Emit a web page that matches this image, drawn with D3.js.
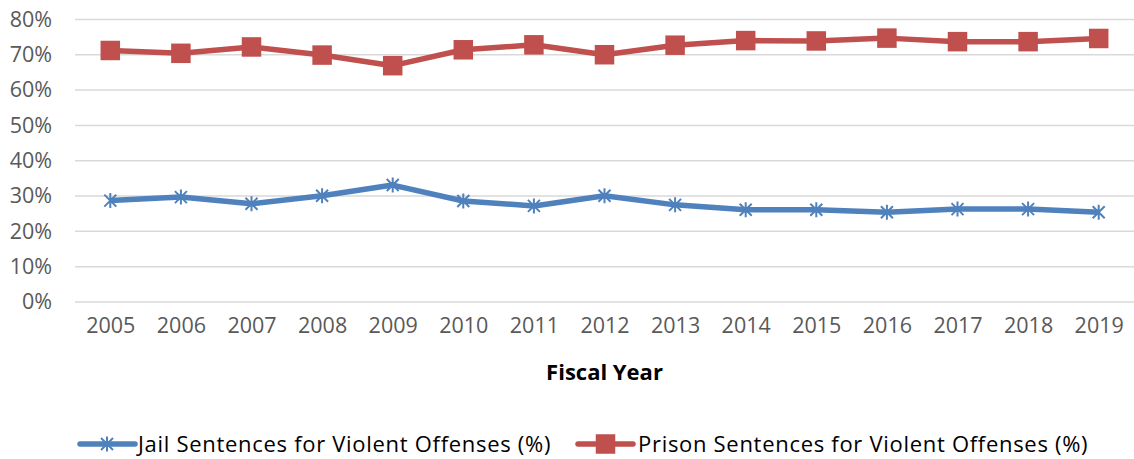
<!DOCTYPE html>
<html>
<head>
<meta charset="utf-8">
<script src="https://cdn.jsdelivr.net/npm/d3@7"></script>
<style>
  body { margin: 0; background: #fff; }
  text { font-family: "Open Sans", sans-serif; }
</style>
</head>
<body>
<div id="chart"></div>
<script>
// data
const years = ["2005", "2006", "2007", "2008", "2009", "2010", "2011", "2012",
    "2013", "2014", "2015", "2016", "2017", "2018", "2019"];
const jailPct = [28.7, 29.7, 27.8, 30.1, 33.1, 28.6, 27.2, 30.1, 27.5, 26.1, 26.1, 25.4, 26.3, 26.3, 25.4];
const prisonPct = [71.2, 70.4, 72.2, 69.9, 66.9, 71.4, 72.8, 70.0, 72.7, 74.0, 73.9, 74.7, 73.7, 73.7, 74.6];
const yTicks = [0, 10, 20, 30, 40, 50, 60, 70, 80];
const seriesNames = ["Jail Sentences for Violent Offenses (%)", "Prison Sentences for Violent Offenses (%)"];

const W = 1134, H = 459;
const margin = { top: 19.4, right: 0, bottom: 157, left: 75 };

const svg = d3.select("#chart")
    .append("svg")
    .attr("width", W)
    .attr("height", H);

const x = d3.scalePoint()
    .domain(years)
    .range([margin.left, W - margin.right])
    .padding(0.5);

const y = d3.scaleLinear()
    .domain([0, 80])
    .range([H - margin.bottom, margin.top]);

// gridlines
svg.append("g")
    .selectAll("line")
    .data(yTicks)
    .enter().append("line")
    .attr("x1", margin.left)
    .attr("x2", W - margin.right)
    .attr("y1", d => y(d))
    .attr("y2", d => y(d))
    .attr("stroke", "#d9d9d9")
    .attr("stroke-width", 1.5);

// y axis labels
const yAxis = svg.append("g")
    .attr("transform", `translate(${margin.left},0)`)
    .call(d3.axisLeft(y).tickValues(yTicks).tickFormat(d => d + "%").tickSize(0).tickPadding(23));
yAxis.select(".domain").remove();
yAxis.selectAll("text")
    .attr("font-family", "Open Sans, sans-serif")
    .attr("font-size", "21.5px")
    .attr("fill", "#595959");

// x axis labels
const xAxis = svg.append("g")
    .attr("transform", `translate(0,${y(0)})`)
    .call(d3.axisBottom(x).tickSize(0).tickPadding(16));
xAxis.select(".domain").remove();
xAxis.selectAll("text")
    .attr("font-family", "Open Sans, sans-serif")
    .attr("font-size", "21.5px")
    .attr("fill", "#595959");

svg.append("text")
    .attr("x", 604.5)
    .attr("y", 380)
    .attr("text-anchor", "middle")
    .attr("font-size", "22px")
    .attr("font-weight", "bold")
    .attr("fill", "#000")
    .text("Fiscal Year");

const line = d3.line()
    .x((d, i) => x(years[i]))
    .y(d => y(d));

const blue = "#4f81bd", red = "#c0504d";
const starPath = r => {
    const k = r * 0.8;
    return `M0,${-r}L0,${r}M${-k},${-k}L${k},${k}M${-k},${k}L${k},${-k}`;
};

// jail series
svg.append("path")
    .datum(jailPct)
    .attr("d", line)
    .attr("fill", "none")
    .attr("stroke", blue)
    .attr("stroke-width", 5.5)
    .attr("stroke-linejoin", "round");

svg.append("g")
    .selectAll("path")
    .data(jailPct)
    .enter().append("path")
    .attr("transform", (d, i) => `translate(${x(years[i])},${y(d)})`)
    .attr("d", starPath(7.5))
    .attr("fill", "none")
    .attr("stroke", blue)
    .attr("stroke-width", 2);

// prison series
svg.append("path")
    .datum(prisonPct)
    .attr("d", line)
    .attr("fill", "none")
    .attr("stroke", red)
    .attr("stroke-width", 5.5)
    .attr("stroke-linejoin", "round");

const sq = 19.5;
svg.append("g")
    .selectAll("rect")
    .data(prisonPct)
    .enter().append("rect")
    .attr("x", (d, i) => x(years[i]) - sq / 2)
    .attr("y", d => y(d) - sq / 2)
    .attr("width", sq)
    .attr("height", sq)
    .attr("fill", red);

// legend
const legendY = 444;
const legend = svg.append("g");

legend.append("line")
    .attr("x1", 80).attr("x2", 135)
    .attr("y1", legendY).attr("y2", legendY)
    .attr("stroke", blue).attr("stroke-width", 5.5).attr("stroke-linecap", "round");
legend.append("path")
    .attr("transform", `translate(107,${legendY})`)
    .attr("d", starPath(7.5))
    .attr("fill", "none")
    .attr("stroke", blue)
    .attr("stroke-width", 2);
legend.append("text")
    .attr("x", 138).attr("y", legendY)
    .attr("dy", "0.35em")
    .attr("font-size", "22px")
    .attr("letter-spacing", "0.7px")
    .attr("fill", "#000")
    .text(seriesNames[0]);

legend.append("line")
    .attr("x1", 578).attr("x2", 633)
    .attr("y1", legendY).attr("y2", legendY)
    .attr("stroke", red).attr("stroke-width", 5.5).attr("stroke-linecap", "round");
legend.append("rect")
    .attr("x", 605.5 - sq / 2).attr("y", legendY - sq / 2)
    .attr("width", sq).attr("height", sq)
    .attr("fill", red);
legend.append("text")
    .attr("x", 638).attr("y", legendY)
    .attr("dy", "0.35em")
    .attr("font-size", "22px")
    .attr("letter-spacing", "0.7px")
    .attr("fill", "#000")
    .text(seriesNames[1]);
</script>
</body>
</html>
